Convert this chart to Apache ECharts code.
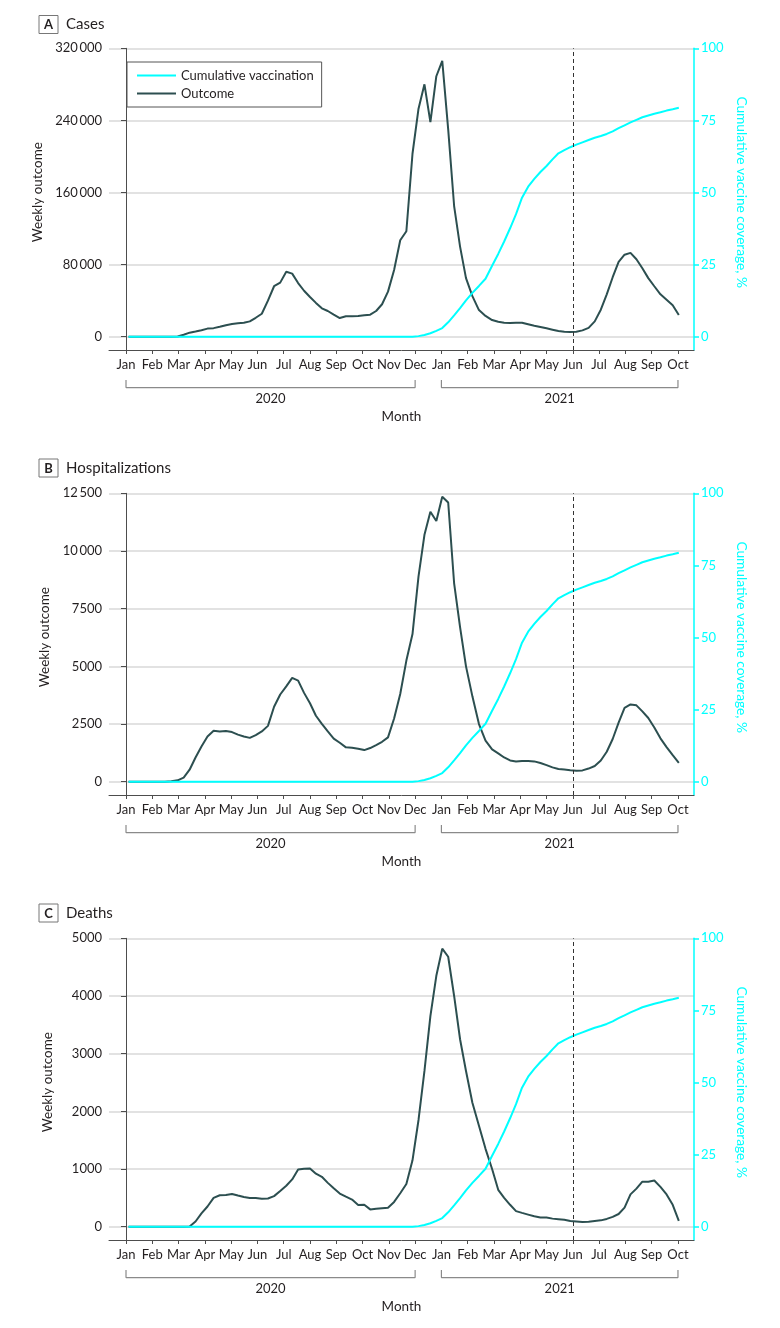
<!DOCTYPE html>
<html><head><meta charset="utf-8">
<script src="https://cdn.jsdelivr.net/npm/echarts@6/dist/echarts.min.js"></script>
<style>html,body{margin:0;padding:0;background:#fff}#c{width:780px;height:1328px}</style>
</head><body><div id="c"></div>
<script>
// ---------- data ----------
const monthNames = ['Jan','Feb','Mar','Apr','May','Jun','Jul','Aug','Sep','Oct','Nov','Dec'];
const monthTicks = [0,1,2,3,4,5,6,7,8,9,10,11,12,13,14,15,16,17,18,19,20,21];
const years = ['2020','2021'];
const yearFirstMonth = [0, 12];
const yearLastMonth = [11, 21];
const firstWeekEnding = [2020, 0, 4]; // weekly points, week ending 2020-01-04
const vaccineStartMonth = 17; // dashed reference line: Jun 2021

const panelLetters = ['A','B','C'];
const panelTitles = ['Cases','Hospitalizations','Deaths'];

const casesTicks = [0, 80000, 160000, 240000, 320000];
const hospTicks = [0, 2500, 5000, 7500, 10000, 12500];
const deathTicks = [0, 1000, 2000, 3000, 4000, 5000];
const coverageTicks = [0, 25, 50, 75, 100];

const vaccination = [
  0,0,0,0,0,0,0,0,0,0, 0,0,0,0,0,0,0,0,0,0,
  0,0,0,0,0,0,0,0,0,0, 0,0,0,0,0,0,0,0,0,0,
  0,0,0,0,0,0,0,0,0.2,0.6,
  1.2,2.0,3.0,5.0,7.4,9.9,12.6,15.2,17.6,20.1,
  24.6,28.7,33,37.6,42.5,48.2,52,54.7,57.1,59.2,
  61.5,63.6,64.7,65.7,66.6,67.4,68.2,69,69.6,70.3,
  71.2,72.3,73.3,74.3,75.2,76.1,76.7,77.3,77.8,78.4,
  78.9,79.4
];
const cases = [
  0,0,0,0,0,0,0,0,300,2200,
  4500,5800,7200,9000,9500,11000,12700,14000,14800,15400,
  17000,21000,25500,40000,56000,60000,72000,70000,59500,51000,
  44000,37500,31500,28500,24500,20700,22600,22800,23000,23800,
  24400,28500,36000,50000,74000,107000,117000,203000,253000,280000,
  238000,289000,306000,230000,145000,100000,65000,45000,29500,23000,
  18500,16500,15500,15300,15400,15400,13800,12200,10800,9300,
  7800,6300,5400,5200,5500,7000,9800,17000,30000,47000,
  66000,83000,91000,93000,86000,76000,65000,56000,47000,41000,
  35000,24000
];
const hospitalizations = [
  0,0,0,0,0,0,0,20,60,180,
  520,1050,1530,1960,2210,2180,2200,2150,2040,1960,
  1900,2020,2180,2420,3250,3780,4130,4500,4380,3850,
  3400,2860,2510,2180,1870,1690,1490,1470,1430,1370,
  1460,1590,1730,1920,2740,3800,5250,6400,8900,10700,
  11700,11300,12350,12100,8600,6700,5000,3700,2500,1780,
  1400,1230,1050,920,880,900,900,880,810,720,
  620,550,525,500,480,490,570,680,920,1300,
  1850,2560,3200,3350,3310,3050,2760,2350,1880,1500,
  1150,820
];
const deaths = [
  0,0,0,0,0,0,0,0,0,0,
  5,90,230,350,500,545,550,566,540,515,
  497,497,485,490,530,620,710,820,990,1005,
  1010,920,865,760,665,575,520,470,378,382,
  300,312,322,330,430,580,740,1150,1850,2700,
  3650,4350,4820,4680,4000,3250,2700,2150,1750,1350,
  1000,640,500,380,270,240,210,180,160,158,
  140,130,120,98,90,80,85,100,110,135,
  170,220,330,560,660,780,780,800,690,560,
  380,100
];

// ---------- helpers ----------
const FONT = 'Lato, "Noto Sans", sans-serif';
const CYAN = '#00ffff';
const DARK = '#2c4f50';
const TEXT = '#231f20';

function weekMonthPos(i) {
  const d = new Date(Date.UTC(firstWeekEnding[0], firstWeekEnding[1], firstWeekEnding[2]) + i * 7 * 86400000);
  const y = d.getUTCFullYear(), mo = d.getUTCMonth(), day = d.getUTCDate();
  const dim = new Date(Date.UTC(y, mo + 1, 0)).getUTCDate();
  return (y - 2020) * 12 + mo + (day - 1) / dim;
}
function pairs(values) { return values.map((v, i) => [weekMonthPos(i), v]); }
function fmtNum(v) {
  const s = String(Math.round(v));
  return Math.abs(v) >= 10000 ? s.slice(0, -3) + '\u2009' + s.slice(-3) : s;
}

const outcomes = [cases, hospitalizations, deaths];
const leftTicks = [casesTicks, hospTicks, deathTicks];
const BELOW = 0.0461;           // share of range drawn below zero
const X_MIN = -0.647, X_MAX = 21.61;
const PANEL_STEP = 445;
const leftNameGap = [62, 54, 54];
const titleTops = [12, 455.5, 900.5];

const grid = [], xAxis = [], yAxis = [], series = [], title = [];

for (let p = 0; p < 3; p++) {
  const top = 48.3 + PANEL_STEP * p;
  grid.push({ left: 109, right: 86, top: top, height: 301.7, outerBoundsMode: 'none' });
}
for (let p = 0; p < 3; p++) {
  grid.push({ left: 109, right: 86, top: 380 + PANEL_STEP * p, height: 7.6, outerBoundsMode: 'none' });
}

for (let p = 0; p < 3; p++) {
  xAxis.push({
    type: 'value', gridIndex: p, min: X_MIN, max: X_MAX,
    axisLine: { show: true, onZero: false, lineStyle: { color: '#4d4d4d', width: 1 } },
    axisTick: { show: true, length: 4, customValues: monthTicks, lineStyle: { color: '#4d4d4d' } },
    axisLabel: { customValues: monthTicks, margin: 8, fontSize: 13, color: TEXT, fontFamily: FONT,
      formatter: v => monthNames[((Math.round(v) % 12) + 12) % 12] },
    splitLine: { show: false }
  });
}
const yearCenters = years.map((y, k) => (yearFirstMonth[k] + yearLastMonth[k]) / 2);
for (let p = 0; p < 3; p++) {
  xAxis.push({
    type: 'value', gridIndex: 3 + p, min: X_MIN, max: X_MAX,
    axisLine: { show: false }, axisTick: { show: false }, splitLine: { show: false },
    axisLabel: { customValues: yearCenters, margin: 5, fontSize: 13, color: TEXT, fontFamily: FONT,
      formatter: v => { const k = yearCenters.findIndex(c => Math.abs(c - v) < 0.01); return k >= 0 ? years[k] : ''; } },
    name: 'Month', nameLocation: 'middle', nameGap: 22,
    nameTextStyle: { fontSize: 13.5, color: TEXT, fontFamily: FONT }
  });
}

for (let p = 0; p < 3; p++) {
  const ticks = leftTicks[p];
  const max = ticks[ticks.length - 1];
  yAxis.push({
    type: 'value', gridIndex: p, position: 'left', min: -BELOW * max, max: max,
    axisLine: { show: true, lineStyle: { color: '#4d4d4d', width: 1 } },
    axisTick: { show: true, length: 5, customValues: ticks, lineStyle: { color: '#4d4d4d' } },
    axisLabel: { customValues: ticks, margin: 7, fontSize: 13, color: TEXT, fontFamily: FONT, formatter: fmtNum },
    splitLine: { show: true, lineStyle: { color: '#d9d9d9', width: 1.5 } },
    name: 'Weekly outcome', nameLocation: 'middle', nameGap: leftNameGap[p],
    nameTextStyle: { fontSize: 13.5, color: TEXT, fontFamily: FONT, padding: [0, 0, 0, 14] }
  });
  yAxis.push({
    type: 'value', gridIndex: p, position: 'right', min: -BELOW * 100, max: 100,
    axisLine: { show: true, lineStyle: { color: CYAN, width: 1.5 } },
    axisTick: { show: true, length: 5, customValues: coverageTicks, lineStyle: { color: CYAN, width: 1.5 } },
    axisLabel: { customValues: coverageTicks, margin: 7, fontSize: 13, color: CYAN, fontFamily: FONT },
    splitLine: { show: false },
    name: 'Cumulative vaccine coverage, %', nameLocation: 'middle', nameGap: 39, nameRotate: -90,
    nameTextStyle: { fontSize: 13.7, color: CYAN, fontFamily: FONT, padding: [0, 14, 0, 0] }
  });
  yAxis.push({ type: 'value', gridIndex: 3 + p, min: 0, max: 1, show: false });
}

for (let p = 0; p < 3; p++) {
  series.push({
    name: 'Outcome', type: 'line', xAxisIndex: p, yAxisIndex: 3 * p,
    data: pairs(outcomes[p]), symbol: 'none', showSymbol: false,
    lineStyle: { color: DARK, width: 2 }, itemStyle: { color: DARK }, z: 3,
    markLine: { silent: true, symbol: ['none', 'none'], label: { show: false },
      lineStyle: { type: [4, 3], color: '#333', width: 1 },
      data: [{ xAxis: vaccineStartMonth }] }
  });
  series.push({
    name: 'Cumulative vaccination', type: 'line', xAxisIndex: p, yAxisIndex: 3 * p + 1,
    data: pairs(vaccination), symbol: 'none', showSymbol: false,
    lineStyle: { color: CYAN, width: 2 }, itemStyle: { color: CYAN }, z: 4
  });
  years.forEach((y, k) => {
    series.push({
      name: 'bracket' + y, type: 'line', xAxisIndex: 3 + p, yAxisIndex: 3 * p + 2,
      data: [[yearFirstMonth[k], 1], [yearFirstMonth[k], 0], [yearLastMonth[k], 0], [yearLastMonth[k], 1]],
      symbol: 'none', silent: true, clip: false,
      lineStyle: { color: '#8a8a8a', width: 1.2 }
    });
  });
  title.push({
    left: 34, top: titleTops[p],
    text: '{box|' + panelLetters[p] + '}{t|' + panelTitles[p] + '}',
    textStyle: { fontWeight: 'normal', rich: {
      box: { fontSize: 13, fontWeight: 'bold', color: TEXT, fontFamily: FONT, borderColor: '#777', borderWidth: 1,
             padding: [3, 5, 2, 5], lineHeight: 13, width: 9, align: 'center' },
      t: { fontSize: 15, fontWeight: 'normal', color: TEXT, fontFamily: FONT, padding: [0, 0, 0, 8] }
    } }
  });
}

const chart = echarts.init(document.getElementById('c'), null, { renderer: 'canvas' });
chart.setOption({
  animation: false,
  backgroundColor: '#fff',
  textStyle: { fontFamily: FONT },
  title: title,
  legend: {
    data: ['Cumulative vaccination', 'Outcome'],
    orient: 'vertical', left: 127, top: 62,
    padding: [7, 8, 7, 9], itemGap: 5, itemWidth: 39, itemHeight: 13,
    borderColor: '#555', borderWidth: 1, backgroundColor: '#fff',
    itemStyle: { opacity: 0 },
    lineStyle: { width: 2 },
    textStyle: { fontSize: 13, color: TEXT, fontFamily: FONT },
    selectedMode: false
  },
  grid: grid, xAxis: xAxis, yAxis: yAxis, series: series
});
</script></body></html>
